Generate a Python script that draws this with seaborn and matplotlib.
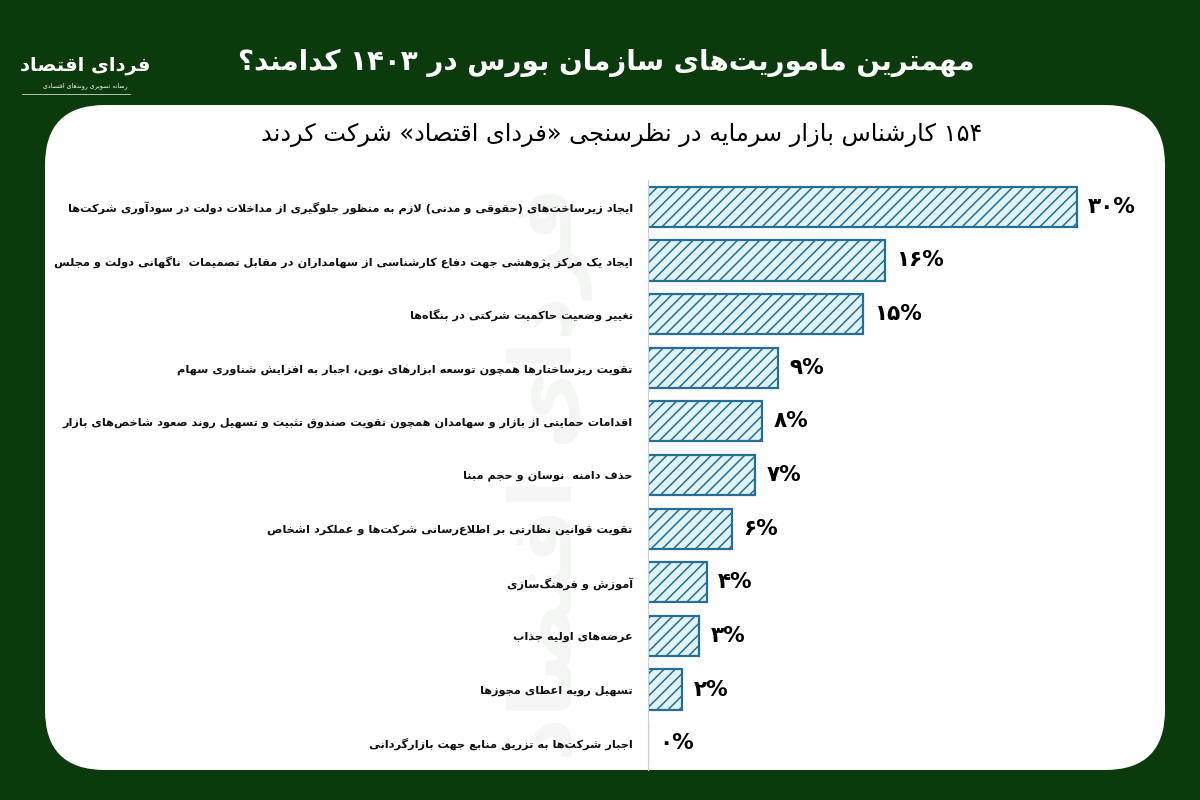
import re
import matplotlib
matplotlib.use("Agg")
import matplotlib.pyplot as plt
from matplotlib.patches import FancyBboxPatch
import seaborn as sns

# ---------------- data ----------------
categories = [
    "ایجاد زیرساخت\u200cهای (حقوقی و مدنی) لازم به منظور جلوگیری از مداخلات دولت در سودآوری شرکت\u200cها",
    "ایجاد یک مرکز پژوهشی جهت دفاع کارشناسی از سهامداران در مقابل تصمیمات  ناگهانی دولت و مجلس",
    "تغییر وضعیت حاکمیت شرکتی در بنگاه\u200cها",
    "تقویت ریزساختارها همچون توسعه ابزارهای نوین، اجبار به افزایش شناوری سهام",
    "اقدامات حمایتی از بازار و سهامدان همچون تقویت صندوق تثبیت و تسهیل روند صعود شاخص\u200cهای بازار",
    "حذف دامنه  نوسان و حجم مبنا",
    "تقویت قوانین نظارتی بر اطلاع\u200cرسانی شرکت\u200cها و عملکرد اشخاص",
    "آموزش و فرهنگ\u200cسازی",
    "عرضه\u200cهای اولیه جذاب",
    "تسهیل رویه اعطای مجوزها",
    "اجبار شرکت\u200cها به تزریق منابع جهت بازارگردانی",
]
# bar lengths as drawn, and the rounded numbers printed next to them
values = [30.0, 16.6, 15.0, 9.1, 8.0, 7.5, 5.9, 4.1, 3.6, 2.4, 0.0]
value_labels = [30, 16, 15, 9, 8, 7, 6, 4, 3, 2, 0]

title = "مهمترین ماموریت\u200cهای سازمان بورس در ۱۴۰۳ کدامند؟"
subtitle = "۱۵۴ کارشناس بازار سرمایه در نظرسنجی «فردای اقتصاد» شرکت کردند"
brand = "فردای اقتصاد"
brand_sub = "رسانه تصویری روندهای اقتصادی"

# ---------------- simple persian shaping (no external libs) ----------------
DUAL = {'ب': 0xFE8F, 'ت': 0xFE95, 'ث': 0xFE99, 'ج': 0xFE9D, 'ح': 0xFEA1, 'خ': 0xFEA5,
        'س': 0xFEB1, 'ش': 0xFEB5, 'ص': 0xFEB9, 'ض': 0xFEBD, 'ط': 0xFEC1, 'ظ': 0xFEC5,
        'ع': 0xFEC9, 'غ': 0xFECD, 'ف': 0xFED1, 'ق': 0xFED5, 'ک': 0xFB8E, 'ك': 0xFED9,
        'گ': 0xFB92, 'ل': 0xFEDD, 'م': 0xFEE1, 'ن': 0xFEE5, 'ه': 0xFEE9, 'ی': 0xFBFC,
        'ي': 0xFEF1, 'پ': 0xFB56, 'چ': 0xFB7A, 'ئ': 0xFE89}
RIGHT = {'ا': 0xFE8D, 'آ': 0xFE81, 'أ': 0xFE83, 'إ': 0xFE87, 'د': 0xFEA9, 'ذ': 0xFEAB,
         'ر': 0xFEAD, 'ز': 0xFEAF, 'ژ': 0xFB8A, 'و': 0xFEED, 'ؤ': 0xFE85, 'ة': 0xFE93}
LAM_ALEF = {'ا': 0xFEFB, 'آ': 0xFEF5, 'أ': 0xFEF7, 'إ': 0xFEF9}


def shape(text):
    out = []
    i, n = 0, len(text)
    while i < n:
        c = text[i]
        joins_prev = i > 0 and text[i - 1] in DUAL
        if c == 'ل' and i + 1 < n and text[i + 1] in LAM_ALEF:
            out.append(chr(LAM_ALEF[text[i + 1]] + (1 if joins_prev else 0)))
            i += 2
            continue
        nxt = text[i + 1] if i + 1 < n else ''
        joins_next = nxt in DUAL or nxt in RIGHT
        if c in DUAL:
            f = 3 if (joins_prev and joins_next) else 1 if joins_prev else 2 if joins_next else 0
            out.append(chr(DUAL[c] + f))
        elif c in RIGHT:
            out.append(chr(RIGHT[c] + (1 if joins_prev else 0)))
        elif c != '\u200c':
            out.append(c)
        i += 1
    return ''.join(out)


def fa(text):
    s = shape(text)[::-1]
    s = s.translate(str.maketrans('()«»', ')(»«'))
    # numbers keep left-to-right order
    return re.sub('[۰-۹0-9]+', lambda m: m.group(0)[::-1], s)


def fa_num(n):
    return str(n).translate(str.maketrans('0123456789', '۰۱۲۳۴۵۶۷۸۹')) + '%'


# ---------------- figure ----------------
sns.set_style("white")
plt.rcParams['font.family'] = ['DejaVu Sans']
plt.rcParams['hatch.linewidth'] = 1.1

BG = "#0b3a0c"
fig = plt.figure(figsize=(12, 8), dpi=100, facecolor=BG)

# white rounded panel
panel = FancyBboxPatch((0.45, 0.30), 11.20, 6.65, boxstyle="round,pad=0,rounding_size=0.6",
                       transform=fig.dpi_scale_trans, facecolor="white", edgecolor="none", zorder=-2)
fig.patches.append(panel)

# faint watermark in a background axes so it stays inside the panel
wax = fig.add_axes([0.08, 0.0375, 0.84, 0.79], zorder=-1)
wax.axis("off")
wax.text(0.45, 0.47, fa(brand), rotation=90, fontsize=62, fontweight="bold",
         color="#f4f6f4", ha="center", va="center", transform=wax.transAxes, clip_on=True)

# logo
fig.text(0.071, 0.918, fa(brand), color="white", fontsize=14, fontweight="bold", ha="center", va="center")
fig.text(0.071, 0.893, fa(brand_sub), color="white", fontsize=4.5, ha="center", va="center")
fig.add_artist(plt.Line2D([0.018, 0.108], [0.882, 0.882], color="#cfd8cf", lw=0.6))

# titles
fig.text(0.505, 0.922, fa(title), color="white", fontsize=20, fontweight="bold", ha="center", va="center")
fig.text(0.518, 0.831, fa(subtitle), color="black", fontsize=17.3, ha="center", va="center")

# bars
ax = fig.add_axes([0.54, 1 - 770 / 800, 0.42, 590 / 800], zorder=1)
ax.patch.set_alpha(0)
labels = [fa(c) for c in categories]
sns.barplot(x=values, y=labels, orient="h", color="#dcf6f9", width=0.75,
            edgecolor="#256f97", linewidth=1.6, ax=ax)
for p in ax.patches:
    p.set_hatch("///")

for i, (v, lab) in enumerate(zip(values, value_labels)):
    ax.annotate(fa_num(lab), xy=(v, i), xytext=(8, 0), textcoords="offset points",
                ha="left", va="center", fontsize=15.5, fontweight="bold", color="black")

ax.set_xlim(0, 30 * (0.42 * 1200) / 429)
ax.set_ylim(10.5, -0.5)
ax.set_xticks([])
ax.set_xlabel("")
ax.set_ylabel("")
ax.tick_params(axis="y", length=0, pad=11)
for t in ax.get_yticklabels():
    t.set_fontsize(8.2)
    t.set_fontweight("bold")
    t.set_color("#111111")
for s in ["top", "right", "bottom"]:
    ax.spines[s].set_visible(False)
ax.spines["left"].set_color("#cfcfcf")
ax.spines["left"].set_linewidth(0.8)

fig.savefig("out.png", dpi=100, facecolor=BG)
